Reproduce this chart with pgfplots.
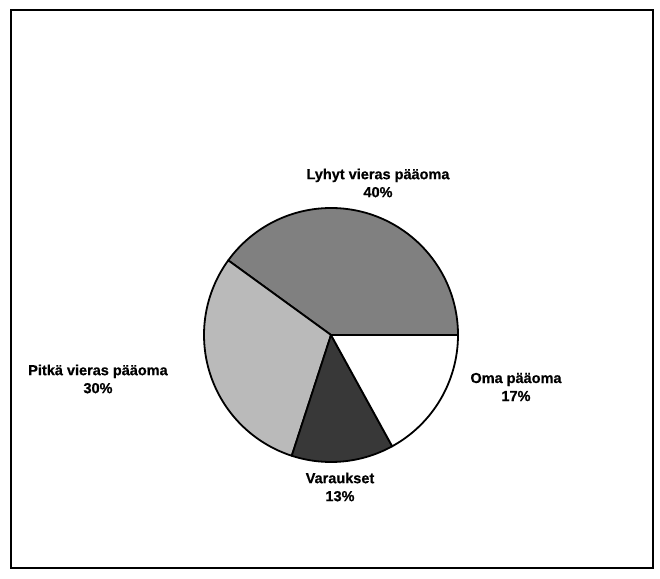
\documentclass[border=0pt]{standalone}
\usepackage{pgfplots}
\pgfplotsset{compat=1.18}
\usepackage{fontspec}
\setmainfont{Liberation Sans}[FakeBold=0.6]
\newfontfamily\lab{Liberation Sans}[AutoFakeBold=0.6]
\begin{document}
\begin{tikzpicture}
\begin{axis}[
  x=1pt, y=1pt,
  xmin=0, xmax=660, ymin=0, ymax=578,
  hide axis, clip=false, scale only axis,
  anchor=origin, at={(0,0)},
]
% background and frame
\fill[white] (axis cs:0,0) rectangle (axis cs:660,578);
\draw[line width=2.4pt] (axis cs:11,10) rectangle (axis cs:653,568);
% pie: shares (percent) 40, 30, 13, 17; centre (331,243), radius 127
\filldraw[fill=black!50, line width=1.8pt, line join=round]
  (axis cs:331,243) -- ++(0:127pt) arc[start angle=0, end angle={3.6*40}, radius=127pt] -- cycle;
\filldraw[fill=black!27, line width=1.8pt, line join=round]
  (axis cs:331,243) -- ++({3.6*40}:127pt) arc[start angle={3.6*40}, end angle={3.6*(40+30)}, radius=127pt] -- cycle;
\filldraw[fill=black!78, line width=1.8pt, line join=round]
  (axis cs:331,243) -- ++({3.6*70}:127pt) arc[start angle={3.6*70}, end angle={3.6*(70+13)}, radius=127pt] -- cycle;
\filldraw[fill=white, line width=1.8pt, line join=round]
  (axis cs:331,243) -- ++({3.6*83}:127pt) arc[start angle={3.6*83}, end angle={3.6*(83+17)}, radius=127pt] -- cycle;
% labels
\node[align=center, font=\fontsize{14.5}{18}\selectfont\bfseries] at (axis cs:378,395) {Lyhyt vieras pääoma\\40\%};
\node[align=center, font=\fontsize{14.5}{18}\selectfont\bfseries] at (axis cs:98,199) {Pitkä vieras pääoma\\30\%};
\node[align=center, font=\fontsize{14.5}{18}\selectfont\bfseries] at (axis cs:516,191) {Oma pääoma\\17\%};
\node[align=center, font=\fontsize{14.5}{18}\selectfont\bfseries] at (axis cs:340,91) {Varaukset\\13\%};
\end{axis}
\end{tikzpicture}
\end{document}
